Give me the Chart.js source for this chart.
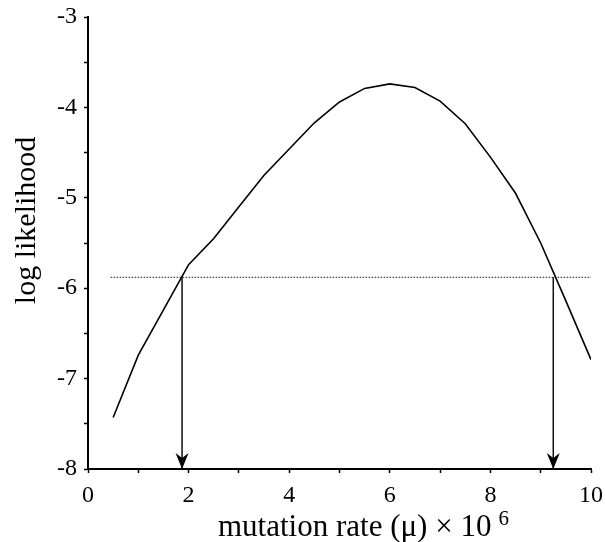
<!DOCTYPE html>
<html>
<head>
<meta charset="utf-8">
<script src="https://cdn.jsdelivr.net/npm/chart.js@4/dist/chart.umd.min.js"></script>
<style>
  html, body { margin: 0; padding: 0; background: #fff; }
  #wrap { width: 605px; height: 542px; }
</style>
</head>
<body>
<div id="wrap"><canvas id="llk" width="605" height="542"></canvas></div>
<script>
// mutation rate (x 10^6) and log likelihood
const mu = [0.5, 1, 1.5, 2, 2.5, 3, 3.5, 4, 4.5, 5, 5.5, 6, 6.5, 7, 7.5, 8, 8.5, 9, 9.5, 10];
const logL = [-7.43, -6.74, -6.24, -5.74, -5.45, -5.10, -4.75, -4.46, -4.17, -3.94, -3.79, -3.74,
    -3.78, -3.93, -4.18, -4.55, -4.95, -5.50, -6.14, -6.79];

// support limit (dotted line) and the two interval bounds (arrows)
const cutoff = -5.88;
const cutoffSpan = [0.45, 10];
const bounds = [1.87, 9.25];

const xTicks = { min: 0, max: 10, step: 1 };
const yTicks = { min: -8, max: -3, step: 0.5 };

const SERIF = '"Liberation Serif", "DejaVu Serif", serif';

const arrowHeads = {
    id: 'arrowHeads',
    afterDatasetsDraw(chart) {
        const ctx = chart.ctx;
        chart.data.datasets.forEach((ds, i) => {
            if (!ds.arrow) return;
            const pts = chart.getDatasetMeta(i).data;
            const p = pts[pts.length - 1];
            ctx.save();
            ctx.fillStyle = '#000';
            ctx.beginPath();
            ctx.moveTo(p.x, p.y);
            ctx.lineTo(p.x - 6.5, p.y - 16);
            ctx.lineTo(p.x, p.y - 11);
            ctx.lineTo(p.x + 6.5, p.y - 16);
            ctx.closePath();
            ctx.fill();
            ctx.restore();
        });
    },
};

const axisTitles = {
    id: 'axisTitles',
    afterDraw(chart) {
        const ctx = chart.ctx;
        const a = chart.chartArea;
        ctx.save();
        ctx.fillStyle = '#000';
        // y title
        ctx.font = '30px ' + SERIF;
        ctx.textAlign = 'center';
        ctx.textBaseline = 'middle';
        ctx.translate(27, a.top + (a.bottom - a.top) * 0.45);
        ctx.rotate(-Math.PI / 2);
        ctx.fillText('log likelihood', 0, 0);
        ctx.restore();

        // x title with superscript
        ctx.save();
        ctx.fillStyle = '#000';
        ctx.textBaseline = 'alphabetic';
        ctx.textAlign = 'left';
        ctx.font = '31px ' + SERIF;
        const main = 'mutation rate (\u03bc) \u00d7 10';
        const w = ctx.measureText(main).width;
        const x0 = a.left + 130;
        const base = chart.height - 6;
        ctx.fillText(main, x0, base);
        ctx.font = '21px ' + SERIF;
        ctx.fillText('6', x0 + w + 7, base - 11);
        ctx.restore();
    },
};

new Chart(document.getElementById('llk'), {
    type: 'line',
    data: {
        datasets: [
            { data: mu.map((m, i) => ({ x: m, y: logL[i] })), borderColor: '#000', borderWidth: 1.6, pointRadius: 0, tension: 0 },
            { data: cutoffSpan.map((m) => ({ x: m, y: cutoff })), borderColor: '#444', borderWidth: 1.2, borderDash: [1.5, 1.5], pointRadius: 0 },
            ...bounds.map((b) => ({ data: [{ x: b, y: cutoff }, { x: b, y: yTicks.min }], borderColor: '#111', borderWidth: 1.5, pointRadius: 0, arrow: true })),
        ],
    },
    options: {
        responsive: false,
        animation: false,
        layout: { padding: { top: 17, right: 14, left: 0, bottom: 0 } },
        plugins: { legend: { display: false }, tooltip: { enabled: false } },
        scales: {
            x: {
                type: 'linear', min: xTicks.min, max: xTicks.max,
                border: { color: '#000', width: 2 },
                grid: { drawOnChartArea: false, drawTicks: true, tickLength: 4, color: '#000', tickWidth: 1.5 },
                ticks: { stepSize: xTicks.step, autoSkip: false, maxRotation: 0, color: '#000', padding: 8,
                    font: { family: SERIF, size: 24 }, callback: (v) => (v % 2 === 0 ? String(v) : '') },
                afterFit: (s) => { s.height = 73; s.paddingLeft = 0; s.paddingRight = 0; },
            },
            y: {
                type: 'linear', min: yTicks.min, max: yTicks.max,
                border: { color: '#000', width: 2 },
                grid: { drawOnChartArea: false, drawTicks: true, tickLength: 4, color: '#000', tickWidth: 1.5 },
                ticks: { stepSize: yTicks.step, autoSkip: false, color: '#000', padding: 7,
                    font: { family: SERIF, size: 24 }, callback: (v) => (Number.isInteger(v) ? String(v) : '') },
                afterFit: (s) => { s.width = 88; s.paddingTop = 0; s.paddingBottom = 0; },
            },
        },
    },
    plugins: [arrowHeads, axisTitles],
});
</script>
</body>
</html>
